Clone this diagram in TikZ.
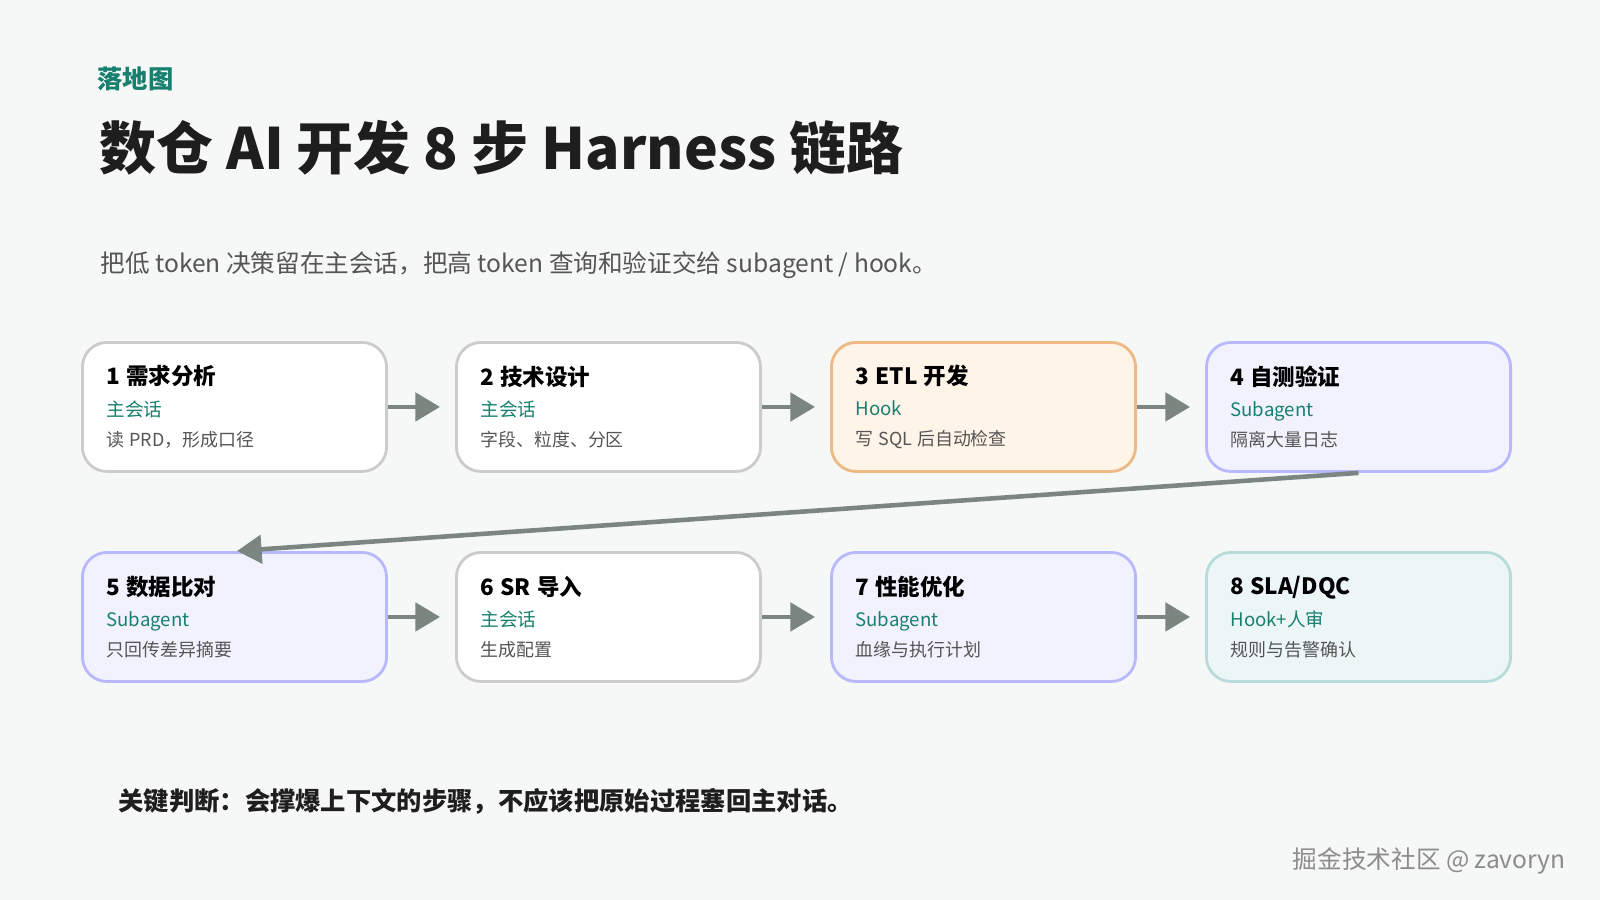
\documentclass[tikz,border=0pt]{standalone}
\usepackage{fontspec}
\setmainfont{Noto Sans CJK SC}
\usepackage{xcolor}
\usetikzlibrary{positioning,arrows.meta}

\definecolor{bgc}{HTML}{F5F8F6}
\definecolor{tealc}{HTML}{17806F}
\definecolor{arrc}{HTML}{7B8680}
\definecolor{txtc}{HTML}{1E1E1E}
\definecolor{subc}{HTML}{555555}

\tikzset{
  step/.style={draw=#1, line width=0.8pt, rounded corners=7pt, minimum width=3.04cm,
    minimum height=1.29cm, inner xsep=0.24cm, align=left, text width=2.56cm},
  plain/.style={step=black!20, fill=white},
  hook/.style={step=orange!50!brown!55, fill=orange!9},
  agent/.style={step=blue!28, fill=blue!5},
  sla/.style={step=teal!28, fill=teal!7},
  flow/.style={draw=arrc, line width=1.3pt, -{Triangle[length=7pt,width=8pt]}}
}
\newcommand{\gap}{\hspace{0.28em}}
\newcommand{\stepbox}[3]{{\fontsize{6.4}{7}\selectfont\bfseries #1}\\[-3pt]
  {\fontsize{5.3}{8.5}\selectfont\color{tealc}#2}\\[-3.5pt]
  {\fontsize{5.1}{8.5}\selectfont\color{subc}#3}}

\begin{document}
\begin{tikzpicture}[x=0.01cm,y=-0.01cm]
\fill[bgc] (0,0) rectangle (1600,900);
\useasboundingbox (0,0) rectangle (1600,900);

\node[anchor=west, text=tealc, font=\fontsize{7.2}{9}\selectfont\bfseries] (tag) at (85,79) {落地图};
\node[anchor=west, text=txtc, font=\fontsize{16.2}{20}\selectfont\bfseries] (title) at (87,148) {数仓 AI 开发 8 步 Harness 链路};
\node[anchor=west, text=subc, font=\fontsize{7}{9}\selectfont] (sub) at (88,265) {把低 token 决策留在主会话，把高 token 查询和验证交给 subagent / hook。};

% first row
\node[plain, anchor=north west] (s1) at (81,341) {\stepbox{1\gap{}需求分析}{主会话}{读\gap{}PRD，形成口径}};
\node[plain, anchor=north west] (s2) at (455,341) {\stepbox{2\gap{}技术设计}{主会话}{字段、粒度、分区}};
\node[hook, anchor=north west] (s3) at (830,341) {\stepbox{3\gap{}ETL\gap{}开发}{Hook}{写\gap{}SQL\gap{}后自动检查}};
\node[agent, anchor=north west] (s4) at (1205,341) {\stepbox{4\gap{}自测验证}{Subagent}{隔离大量日志}};
% second row
\node[agent, anchor=north west] (s5) at (81,551) {\stepbox{5\gap{}数据比对}{Subagent}{只回传差异摘要}};
\node[plain, anchor=north west] (s6) at (455,551) {\stepbox{6\gap{}SR\gap{}导入}{主会话}{生成配置}};
\node[agent, anchor=north west] (s7) at (830,551) {\stepbox{7\gap{}性能优化}{Subagent}{血缘与执行计划}};
\node[sla, anchor=north west] (s8) at (1205,551) {\stepbox{8\gap{}SLA/DQC}{Hook+人审}{规则与告警确认}};

\foreach \a/\b in {s1/s2,s2/s3,s3/s4,s5/s6,s6/s7,s7/s8}{
  \draw[flow] (\a.east) -- ([xshift=-0.15cm]\b.west);
}
\coordinate (drop) at (237,551);
\draw[flow] (s4.south) -- (drop);

\node[anchor=west, text=txtc, font=\fontsize{7.2}{9}\selectfont\bfseries] (note) at (106,801) {关键判断：会撑爆上下文的步骤，不应该把原始过程塞回主对话。};
\node[anchor=east, text=black!45, font=\fontsize{7}{9}\selectfont] (mark) at (1578,861) {掘金技术社区 @ zavoryn};
\end{tikzpicture}
\end{document}
